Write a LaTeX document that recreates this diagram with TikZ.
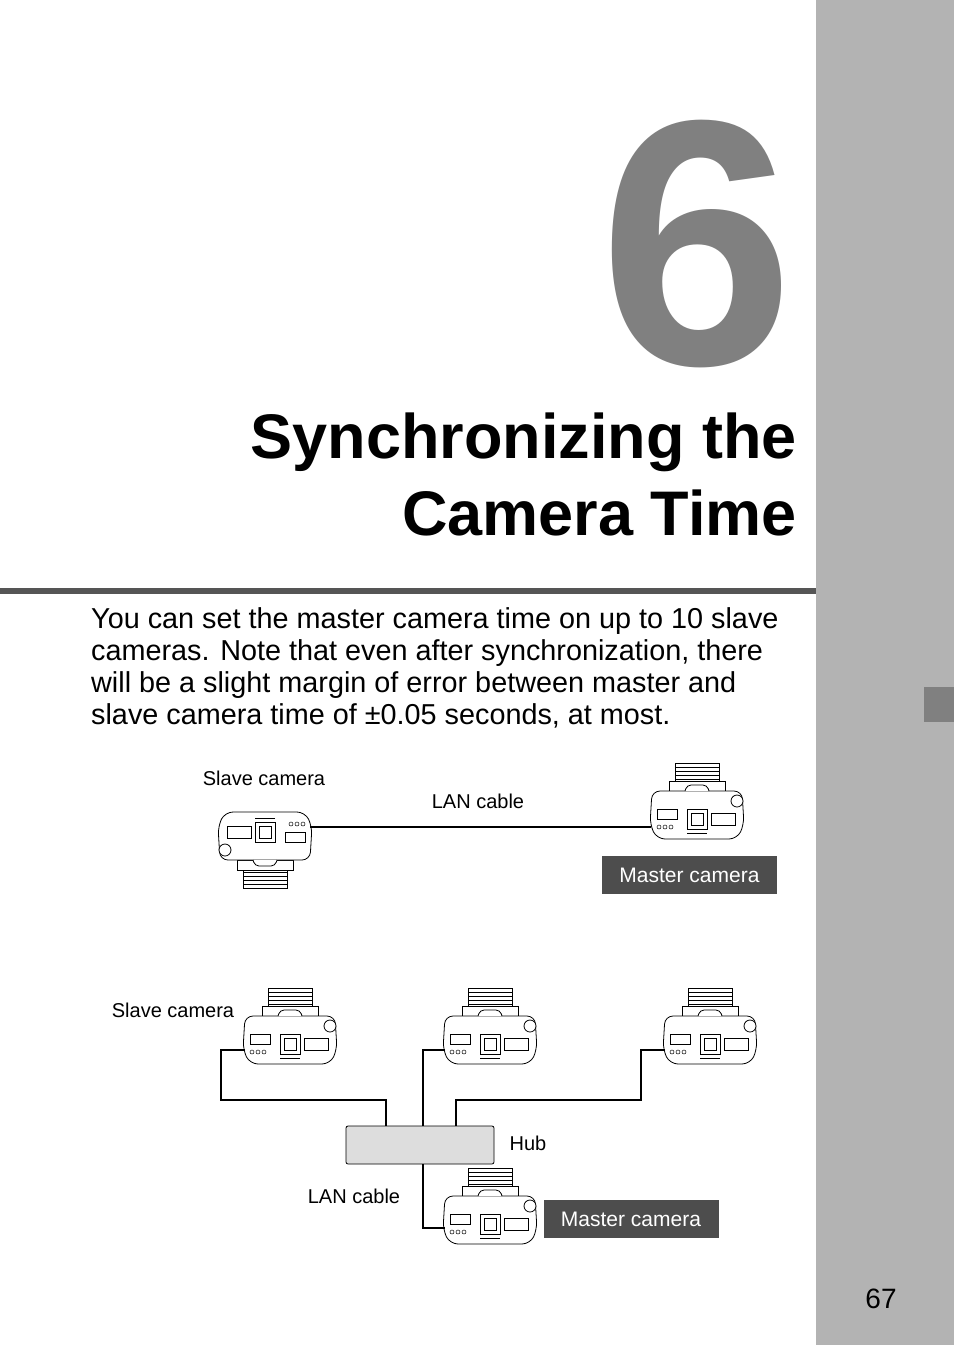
\documentclass[tikz,border=0pt]{standalone}
\usepackage{fontspec}
\setmainfont{Liberation Sans}
\definecolor{sidegray}{HTML}{B3B3B3}
\definecolor{tabgray}{HTML}{808080}
\definecolor{rulegray}{HTML}{555555}
\definecolor{boxdark}{HTML}{4D4D4D}
\definecolor{hubfill}{HTML}{DDDDDD}
\tikzset{
  lbl/.style={font=\fontsize{20}{24}\selectfont, inner sep=0},
  mbox/.style={fill=boxdark, text=white, font=\fontsize{21}{24}\selectfont, minimum width=175, minimum height=38, inner sep=0},
  cable/.style={line width=2pt, black},
  camline/.style={line width=0.8pt, black, fill=white},
  pics/camera/.style={code={
    \draw[camline] (-22,-52) rectangle (22,-24);
    \foreach \yy in {-48,-44,...,-36} \draw[line width=0.5pt] (-22,\yy) -- (22,\yy);
    \draw[camline] (-28,-34) rectangle (28,-24);
    \draw[camline, rounded corners=8] (-45,-24) -- (45,-24) -- (47,10) -- (40,24) -- (-40,24) -- (-47,10) -- cycle;
    \draw[camline, rounded corners=4] (-12,-24) -- (-10,-30) -- (10,-30) -- (12,-24);
    \draw[camline] (-10,-6) rectangle (10,14);
    \draw[line width=0.5pt] (-6,-2) rectangle (6,10);
    \draw[camline] (14,-2) rectangle (38,10);
    \draw[line width=0.5pt] (-40,-6) rectangle (-20,4);
    \foreach \xx in {-38,-32,-26} \draw[line width=0.5pt] (\xx,12) circle (2);
    \draw[camline] (40,-14) circle (6);
    \draw[line width=0.5pt] (-10,18) -- (10,18);
  }}
}
\begin{document}
\begin{tikzpicture}[x=1pt,y=-1pt]
\useasboundingbox (0,0) rectangle (954,1345);
\fill[white] (0,0) rectangle (954,1345);
\fill[sidegray] (816,0) rectangle (954,1345);
\fill[tabgray] (924,687) rectangle (954,722);
\fill[rulegray] (0,588) rectangle (816,594);
\node[anchor=base, text=tabgray, inner sep=0, text depth=0pt, text height=250, font=\fontsize{350}{350}\selectfont\bfseries] (six) at (697,364) {6};
\node[anchor=base east, inner sep=0, font=\fontsize{63}{63}\selectfont\bfseries] (t1) at (797,458) {Synchronizing the};
\node[anchor=base east, inner sep=0, font=\fontsize{63}{63}\selectfont\bfseries] (t2) at (797,535) {Camera Time};
\node[anchor=north west, inner sep=0, align=left, font=\fontsize{28.8}{32}\selectfont] (body) at (91,607)
 {You can set the master camera time on up to 10 slave\\cameras. Note that even after synchronization, there\\will be a slight margin of error between master and\\slave camera time of ±0.05 seconds, at most.};
\pic[rotate=180] at (265,836) {camera};
\pic at (697,815) {camera};
\coordinate (s1) at (310,827);
\coordinate (m1) at (651,827);
\draw[line width=1.5pt] (s1) -- (m1);
\node[lbl] (l1) at (264,778) {Slave camera};
\node[lbl] (l2) at (478,801) {LAN cable};
\node[mbox] (mb1) at (689.5,875) {Master camera};
\pic at (290,1040) {camera};
\pic at (490,1040) {camera};
\pic at (710,1040) {camera};
\pic at (490,1220) {camera};
\node[draw, fill=hubfill, rounded corners=2, minimum width=148, minimum height=38, inner sep=0, line width=0.8pt] (hub) at (420,1145) {};
\coordinate (c1) at (245,1050);
\coordinate (c2) at (445,1050);
\coordinate (c3) at (665,1050);
\coordinate (c4) at (445,1228);
\draw[cable] (c1) -- (221,1050) -- (221,1100) -- (386,1100) -- (386,1126);
\draw[cable] (c2) -- (423,1050) -- (423,1126);
\draw[cable] (c3) -- (641,1050) -- (641,1100) -- (456,1100) -- (456,1126);
\draw[cable] (423,1164) -- (423,1228) -- (c4);
\node[lbl] (l3) at (173,1010) {Slave camera};
\node[lbl] (l4) at (528,1143) {Hub};
\node[lbl] (l5) at (354,1196) {LAN cable};
\node[mbox] (mb2) at (631,1219) {Master camera};
\node[inner sep=0, font=\fontsize{28}{30}\selectfont] (pg) at (881,1299) {67};
\end{tikzpicture}
\end{document}
